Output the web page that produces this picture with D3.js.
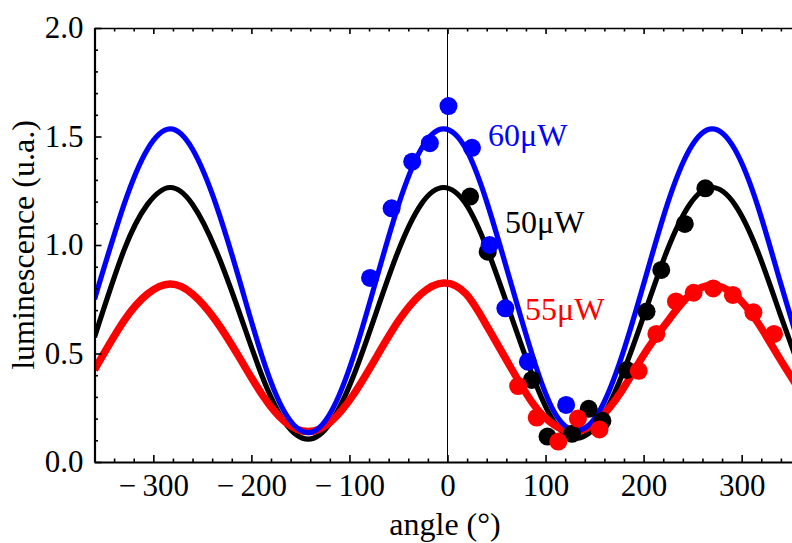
<!DOCTYPE html>
<html><head><meta charset="utf-8">
<script src="https://cdn.jsdelivr.net/npm/d3@7"></script>
<style>
html,body{margin:0;padding:0;background:#fff;overflow:hidden;}
svg{display:block;}
text{font-family:"Liberation Serif","Times New Roman",serif;}
</style>
</head><body>
<svg id="chart" width="792" height="543"></svg>
<script>
// ---- data ----
const fitAngles = [-360,-330,-306,-283,-260,-236,-212,-189,-166,-142,-119,-96,-73,-50,-27,-4,19,41,64,87,109,132,155,178,201,224,247,270,293,316,339,360];
const fit60 = [0.75,1.185,1.441,1.535,1.441,1.185,0.835,0.485,0.229,0.135,0.229,0.485,0.835,1.185,1.441,1.535,1.441,1.185,0.835,0.485,0.229,0.145,0.235,0.49,0.835,1.185,1.441,1.535,1.441,1.185,0.835,0.516];
const fit50 = [0.575,0.975,1.187,1.265,1.187,0.975,0.685,0.395,0.183,0.105,0.183,0.395,0.685,0.975,1.187,1.265,1.187,0.975,0.685,0.395,0.183,0.11,0.188,0.40,0.685,0.975,1.187,1.265,1.187,0.975,0.685,0.42];
const fit55 = [0.425,0.65,0.774,0.82,0.774,0.65,0.48,0.31,0.186,0.14,0.186,0.31,0.48,0.65,0.774,0.825,0.774,0.62,0.44,0.27,0.17,0.14,0.2,0.33,0.5,0.645,0.77,0.815,0.77,0.645,0.475,0.325];

const pts60Angle = [-79,-57,-36,-18,1,25,43,59,82,121];
const pts60Value = [0.848,1.169,1.384,1.469,1.64,1.448,1.0,0.708,0.462,0.263];
const pts50Angle = [23,41,86,102,127,144,158,183,203,218,242,263];
const pts50Value = [1.223,0.969,0.378,0.117,0.13,0.245,0.19,0.424,0.693,0.885,1.097,1.261];
const pts55Angle = [72,91,113,133,155,195,213,233,251,271,291,312,333];
const pts55Value = [0.35,0.205,0.094,0.20,0.15,0.42,0.59,0.74,0.78,0.80,0.77,0.69,0.59];

const seriesLabels = ["60μW","50μW","55μW"];
const xTickValues = [-300,-200,-100,0,100,200,300];
const xTickLabels = ["\u2212\u2009300","\u2212\u2009200","\u2212\u2009100","0","100","200","300"];
const yTickValues = [0,0.5,1,1.5,2];
const yTickLabels = ["0.0","0.5","1.0","1.5","2.0"];
const xTitle = "angle (°)";
const yTitle = "luminescence (u.a.)";

// ---- layout ----
const svg = d3.select("#chart");
const pL = 94.5, pR = 800.5, pT = 28, pB = 462;
const x = d3.scaleLinear().domain([-360,360]).range([pL,pR]);
const y = d3.scaleLinear().domain([0,2]).range([pB,pT]);

const defs = svg.append("defs");
defs.append("clipPath").attr("id","plotclip").append("rect")
  .attr("x",pL).attr("y",pT).attr("width",pR-pL).attr("height",pB-pT);

const plot = svg.append("g").attr("clip-path","url(#plotclip)");

// vertical line at 0
plot.append("line").attr("x1",x(0)).attr("x2",x(0)).attr("y1",pT).attr("y2",pB)
  .attr("stroke","#000").attr("stroke-width",1);

const line = d3.line().x(d=>x(d[0])).y(d=>y(d[1])).curve(d3.curveNatural);
const series = [
  {fit:fit50, color:"#000000", w:5.2, pa:pts50Angle, pv:pts50Value},
  {fit:fit55, color:"#ff0000", w:7.5, pa:pts55Angle, pv:pts55Value},
  {fit:fit60, color:"#0000ff", w:5.2, pa:pts60Angle, pv:pts60Value}
];
series.forEach(s=>{
  plot.append("path").datum(fitAngles.map((a,i)=>[a,s.fit[i]]))
    .attr("d",line).attr("fill","none").attr("stroke",s.color)
    .attr("stroke-width",s.w).attr("stroke-linejoin","round");
});
series.forEach(s=>{
  plot.selectAll(null).data(s.pa.map((a,i)=>[a,s.pv[i]])).enter().append("circle")
    .attr("cx",d=>x(d[0])).attr("cy",d=>y(d[1])).attr("r",9).attr("fill",s.color);
});

// ---- axes (ticks inside) ----
const minorX = d3.range(-360,361,20).filter(v=>v%100!==0);
const minorY = d3.range(0,21,1).map(v=>v/10).filter(v=>Math.round(v*10)%5!==0);

function styleAxis(g, w){
  g.select(".domain").attr("stroke","#000").attr("stroke-width",w);
  g.selectAll(".tick line").attr("stroke","#000").attr("stroke-width",1.6);
}
function styleMinor(g){
  g.select(".domain").remove();
  g.selectAll(".tick line").attr("stroke","#000").attr("stroke-width",1.6);
}
// bottom
const gB = svg.append("g").attr("transform",`translate(0,${pB})`)
  .call(d3.axisBottom(x).tickValues(xTickValues).tickSizeInner(-7).tickSizeOuter(0)
    .tickFormat((d,i)=>xTickLabels[i]).tickPadding(10));
styleAxis(gB,2.2);
gB.selectAll(".tick text").attr("font-size",31).attr("fill","#000")
  .attr("font-family","Liberation Serif").attr("dy","0.78em");
svg.append("g").attr("transform",`translate(0,${pB})`)
  .call(d3.axisBottom(x).tickValues(minorX).tickSize(-3.5).tickFormat("")).call(styleMinor);
// top
const gT = svg.append("g").attr("transform",`translate(0,${pT})`)
  .call(d3.axisTop(x).tickValues(xTickValues).tickSizeInner(-6).tickSizeOuter(0).tickFormat(""));
styleAxis(gT,1.6);
svg.append("g").attr("transform",`translate(0,${pT})`)
  .call(d3.axisTop(x).tickValues(minorX).tickSize(-3.5).tickFormat("")).call(styleMinor);
// left
const gL = svg.append("g").attr("transform",`translate(${pL},0)`)
  .call(d3.axisLeft(y).tickValues(yTickValues).tickSizeInner(-7).tickSizeOuter(0)
    .tickFormat((d,i)=>yTickLabels[i]).tickPadding(11));
styleAxis(gL,2.2);
gL.selectAll(".tick text").attr("font-size",31).attr("fill","#000")
  .attr("font-family","Liberation Serif");
svg.append("g").attr("transform",`translate(${pL},0)`)
  .call(d3.axisLeft(y).tickValues(minorY).tickSize(-3.5).tickFormat("")).call(styleMinor);

// titles
svg.append("text").attr("x",445).attr("y",535).attr("text-anchor","middle")
  .attr("font-size",32).attr("fill","#000").text(xTitle);
svg.append("text").attr("transform",`translate(34,${(pT+pB)/2}) rotate(-90)`)
  .attr("text-anchor","middle").attr("font-size",32).attr("fill","#000").text(yTitle);

// series labels
const labelPos = [[488,146,"#0000ff"],[505,233,"#000000"],[525,320,"#ff0000"]];
seriesLabels.forEach((t,i)=>{
  svg.append("text").attr("x",labelPos[i][0]).attr("y",labelPos[i][1])
    .attr("font-size",32).attr("fill",labelPos[i][2]).text(t);
});
</script>
</body></html>
